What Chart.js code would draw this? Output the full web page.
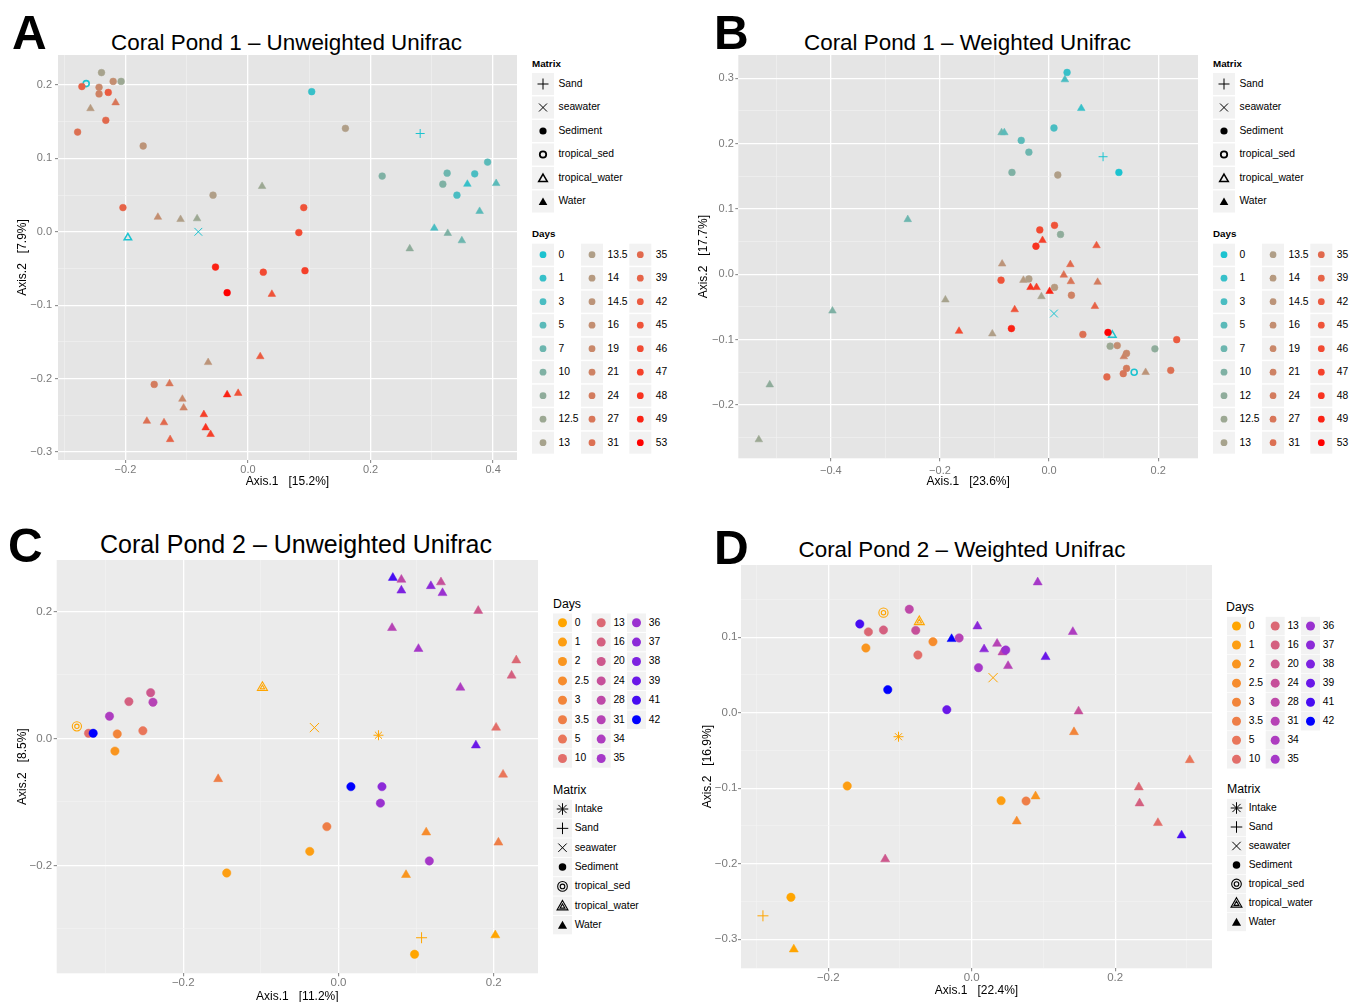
<!DOCTYPE html>
<html><head><meta charset="utf-8">
<script src="https://cdn.jsdelivr.net/npm/chart.js"></script>
<style>
html,body{margin:0;padding:0;overflow:hidden;background:#fff;width:1349px;height:1002px;}
body{position:relative;font-family:"Liberation Sans",Arial,Helvetica,sans-serif;color:#000;}
.t{position:absolute;white-space:pre;line-height:1;}
canvas{position:absolute;}
#ov{position:absolute;left:0;top:0;}
</style></head><body>
<svg id="ov" width="1349" height="1002"></svg>
<script>
// ---------------- DATA ----------------
const pond1Days = [0,1,3,5,7,10,12,12.5,13,13.5,14,14.5,16,19,21,24,27,31,35,39,42,45,46,47,48,49,53];
const pond1Colors = ['#1CC3D0','#37C0C9','#4ABDC2','#5BBAB9','#6DB6AF','#7FB1A4','#8FAC9B','#9CA893','#A7A38D','#B09F88','#B69A80','#BC9479','#C38E71','#C9886A','#CE8264','#D37C5E','#D87659','#DC7053','#E1694D','#E66347','#EB5B40','#EF5339','#F24A32','#F5402A','#F83320','#FB2214','#FF0000'];
const pond1Matrix = ['Sand','seawater','Sediment','tropical_sed','tropical_water','Water'];
const pond2Days = [0,1,2,2.5,3,3.5,5,10,13,16,20,24,28,31,34,35,36,37,38,39,41,42];
const pond2Colors = ['#FFA500','#FD9E12','#F9951F','#F68C2D','#F2853A','#EE7E47','#E9765A','#E26E6A','#DB6874','#D46080','#CD588D','#C6509A','#BE49A8','#B643B5','#AE3DC0','#A638C8','#9A31D0','#8C2AD8','#7D22E0','#6A18E8','#470CF2','#0000FF'];
const pond2Matrix = ['Intake','Sand','seawater','Sediment','tropical_sed','tropical_water','Water'];

// Panel A: Coral Pond 1 - Unweighted Unifrac
const aX = [-0.239,-0.264,-0.271,-0.220,-0.207,-0.243,-0.243,-0.228,-0.257,-0.216,-0.232,-0.278,-0.171,0.023,-0.057,-0.204,-0.147,-0.110,-0.083,-0.081,-0.196,-0.053,0.025,-0.034,0.039,0.020,-0.065,-0.153,-0.128,-0.034,-0.016,-0.107,-0.105,-0.072,-0.165,-0.137,-0.069,-0.061,-0.127,0.104,0.159,0.281,0.219,0.391,0.325,0.370,0.318,0.358,0.405,0.341,0.378,0.304,0.326,0.349,0.264,0.091,0.083,0.093];
const aY = [0.217,0.202,0.198,0.205,0.205,0.197,0.188,0.190,0.168,0.176,0.152,0.136,0.117,0.062,0.050,0.033,0.020,0.017,0.018,0.000,-0.008,-0.048,-0.055,-0.083,-0.085,-0.170,-0.178,-0.208,-0.207,-0.222,-0.220,-0.228,-0.240,-0.249,-0.258,-0.260,-0.267,-0.276,-0.283,0.191,0.141,0.134,0.076,0.095,0.080,0.079,0.065,0.065,0.066,0.050,0.028,0.005,-0.002,-0.012,-0.023,0.033,-0.001,-0.053];
const aDay = [13,0,39,16,12.5,19,21,42,14,27,35,31,14.5,12.5,13.5,39,16,13.5,12.5,0,0,49,46,53,45,42,14.5,24,27,49,45,19,21,47,31,35,48,47,39,1,13.5,0,10,5,7,3,10,1,5,3,5,3,10,7,12,45,46,47];
const aMat = ['Sediment','tropical_sed','Sediment','Sediment','Sediment','Sediment','Sediment','Sediment','Water','Water','Sediment','Sediment','Sediment','Water','Sediment','Sediment','Water','Water','Water','seawater','tropical_water','Sediment','Sediment','Sediment','Water','Water','Water','Sediment','Water','Water','Water','Water','Water','Water','Water','Water','Water','Water','Water','Sediment','Sediment','Sand','Sediment','Sediment','Sediment','Sediment','Sediment','Water','Water','Sediment','Water','Water','Water','Water','Water','Sediment','Sediment','Sediment'];

// Panel B: Coral Pond 1 - Weighted Unifrac
const bX = [-0.259,-0.190,-0.165,-0.397,-0.512,-0.532,0.033,0.029,0.059,-0.087,-0.082,0.009,-0.051,-0.037,0.099,0.128,-0.068,0.016,0.010,-0.017,0.021,-0.012,-0.024,0.087,-0.086,0.039,0.027,-0.088,-0.047,-0.037,0.040,0.089,-0.034,-0.023,0.001,0.010,-0.014,0.041,0.009,0.084,-0.063,-0.069,-0.104,0.062,0.108,0.116,0.112,0.125,0.137,0.142,0.234,0.194,0.142,0.136,0.156,0.177,0.223,0.106];
const bY = [0.084,-0.039,-0.087,-0.056,-0.169,-0.253,0.309,0.298,0.254,0.217,0.217,0.224,0.205,0.187,0.180,0.156,0.156,0.152,0.075,0.068,0.061,0.052,0.043,0.044,0.016,0.015,-0.001,-0.009,-0.009,-0.007,-0.011,-0.012,-0.020,-0.020,-0.026,-0.020,-0.034,-0.032,-0.060,-0.049,-0.054,-0.083,-0.091,-0.092,-0.089,-0.093,-0.110,-0.109,-0.126,-0.121,-0.100,-0.114,-0.144,-0.152,-0.150,-0.150,-0.147,-0.157];
const bDay = [7,13,46,10,12,12.5,1,3,1,7,5,3,5,7,0,0,10,13.5,45,46,12,47,48,42,14.5,35,31,45,14,13.5,27,24,48,47,49,14,13,21,0,39,45,49,13.5,31,53,0,12.5,16,21,19,42,12,24,27,0,14.5,31,35];
const bMat = ['Water','Water','Water','Water','Water','Water','Sediment','Water','Water','Water','Water','Sediment','Sediment','Sediment','Sand','Sediment','Sediment','Sediment','Sediment','Sediment','Sediment','Water','Sediment','Water','Water','Water','Water','Sediment','Water','Sediment','Water','Water','Water','Water','Water','Sediment','Water','Sediment','seawater','Water','Water','Sediment','Water','Sediment','Sediment','tropical_water','Sediment','Sediment','Water','Sediment','Sediment','Sediment','Sediment','Sediment','tropical_sed','Water','Sediment','Sediment'];

// Panel C: Coral Pond 2 - Unweighted Unifrac
const cX = [-0.098,-0.242,-0.270,-0.239,-0.295,-0.337,-0.322,-0.316,-0.285,-0.252,-0.288,-0.155,-0.144,0.070,0.081,0.081,0.119,0.132,0.134,0.180,0.069,0.103,0.229,0.223,0.157,-0.031,0.0515,0.203,0.177,0.212,0.016,0.056,0.054,-0.015,0.113,0.206,-0.037,0.117,0.087,0.107,0.202,0.098];
const cY = [0.080,0.072,0.058,0.057,0.035,0.019,0.008,0.008,0.007,0.012,-0.020,-0.064,-0.212,0.253,0.250,0.233,0.240,0.246,0.229,0.201,0.174,0.141,0.123,0.099,0.080,0.017,0.005,0.017,-0.011,-0.057,-0.076,-0.076,-0.102,-0.139,-0.148,-0.164,-0.178,-0.193,-0.215,-0.314,-0.310,-0.340];
const cDay = [0,20,16,31,34,0,10,42,3,5,2,3.5,1,41,28,38,37,24,36,20,31,35,13,16,34,0,0,10,39,5,42,37,36,3.5,2.5,3.5,1,35,2,0,0,0];
const cMat = ['tropical_water','Sediment','Sediment','Sediment','Sediment','tropical_sed','Sediment','Sediment','Sediment','Sediment','Sediment','Water','Sediment','Water','Water','Water','Water','Water','Water','Water','Water','Water','Water','Water','Water','seawater','Intake','Water','Water','Water','Sediment','Sediment','Sediment','Sediment','Water','Water','Sediment','Sediment','Water','Sand','Water','Sediment'];

// Panel D: Coral Pond 2 - Weighted Unifrac
const dX = [-0.123,-0.087,-0.073,-0.156,-0.144,-0.123,-0.078,-0.054,-0.028,-0.0175,-0.1475,-0.075,-0.117,-0.0347,-0.102,-0.1735,-0.1206,-0.252,-0.291,-0.248,0.092,0.008,0.141,0.0354,0.0173,0.0429,0.0475,0.103,0.0095,0.0507,0.0298,0.149,0.1426,0.304,0.233,0.234,0.2596,0.2926,0.041,0.0758,0.089,0.0628];
const dY = [0.1325,0.137,0.1205,0.1175,0.107,0.1095,0.109,0.094,0.0976,0.099,0.0857,0.0764,0.0305,0.004,-0.0318,-0.097,-0.194,-0.2445,-0.269,-0.3134,0.1727,0.1144,0.107,0.0914,0.084,0.080,0.083,0.0738,0.0596,0.0619,0.0464,0.0018,-0.0256,-0.0627,-0.0988,-0.120,-0.146,-0.1624,-0.1165,-0.117,-0.1107,-0.1438];
const dDay = [0,28,0,41,13,16,24,2.5,42,31,2,10,42,39,0,1,20,0,0,0,35,37,34,31,37,28,36,39,35,31,0,24,3,5,13,16,10,41,1,3.5,2,2.5];
const dMat = ['tropical_sed','Sediment','tropical_water','Sediment','Sediment','Sediment','Sediment','Sediment','Water','Sediment','Sediment','Sediment','Sediment','Sediment','Intake','Sediment','Water','Sediment','Sand','Water','Water','Water','Water','Water','Water','Water','Sediment','Water','Sediment','Water','seawater','Water','Water','Water','Water','Water','Water','Water','Sediment','Sediment','Water','Water'];

// tick values
const aXMajor = [-0.2,0,0.2,0.4], aXMinor = [-0.3,-0.1,0.1,0.3];
const aYMajor = [-0.3,-0.2,-0.1,0,0.1,0.2], aYMinor = [-0.25,-0.15,-0.05,0.05,0.15];
const bXMajor = [-0.4,-0.2,0,0.2], bXMinor = [-0.5,-0.3,-0.1,0.1];
const bYMajor = [-0.2,-0.1,0,0.1,0.2,0.3], bYMinor = [-0.25,-0.15,-0.05,0.05,0.15,0.25];
const cXMajor = [-0.2,0,0.2], cXMinor = [-0.3,-0.1,0.1];
const cYMajor = [-0.2,0,0.2], cYMinor = [-0.3,-0.1,0.1];
const dXMajor = [-0.2,0,0.2], dXMinor = [-0.3,-0.1,0.1,0.3];
const dYMajor = [-0.3,-0.2,-0.1,0,0.1], dYMinor = [-0.25,-0.15,-0.05,0.05,0.15];

// ---------------- RENDERING ----------------
Chart.defaults.font.family = "'Liberation Sans', Arial, Helvetica, sans-serif";
Chart.defaults.animation = false;
const MINUS = '\u2212';
function fmt(v){ return (v < -1e-9 ? MINUS : '') + Math.abs(v).toFixed(1); }
function near(list, v){ return list.some(m => Math.abs(m - v) < 1e-9); }

const panelBg = { id:'panelBg', beforeDraw(chart, args, opts){ const a = chart.chartArea, ctx = chart.ctx; ctx.save(); ctx.fillStyle = opts.color; ctx.fillRect(a.left, a.top, a.right-a.left, a.bottom-a.top); ctx.restore(); } };

const SHAPES1 = {
  Sand:[{style:'cross',r:4.5,fill:false,bw:1}],
  seawater:[{style:'crossRot',r:5.5,fill:false,bw:1}],
  Sediment:[{style:'circle',r:3.4,fill:true,bw:0.5}],
  tropical_sed:[{style:'circle',r:3,fill:false,bw:1.6}],
  tropical_water:[{style:'triangle',r:4.3,fill:false,bw:1.5}],
  Water:[{style:'triangle',r:4.4,fill:true,bw:0.5}]
};
const SHAPES2 = {
  Intake:[{style:'star',r:5,fill:false,bw:1}],
  Sand:[{style:'cross',r:5.5,fill:false,bw:1}],
  seawater:[{style:'crossRot',r:6.5,fill:false,bw:1}],
  Sediment:[{style:'circle',r:4.2,fill:true,bw:0.5}],
  tropical_sed:[{style:'circle',r:4.6,fill:false,bw:1.1},{style:'circle',r:2.2,fill:false,bw:1.1}],
  tropical_water:[{style:'triangle',r:5.8,fill:false,bw:1.1},{style:'triangle',r:2.6,fill:false,bw:1.1}],
  Water:[{style:'triangle',r:5.2,fill:true,bw:0.5}]
};

function makePanel(p){
  const lh = p.atSize*1.2;
  const cLeft = Math.round(p.yTitleX - lh/2);
  const cTop = p.plot[1];
  const cBottom = Math.round(p.xTitleY + lh/2);
  const W = Math.round(p.plot[2] - cLeft);
  const H = cBottom - cTop;
  const yW = p.plot[0] - cLeft;
  const xH = H - (p.plot[3] - p.plot[1]);
  const cv = document.createElement('canvas');
  cv.width = W; cv.height = H;
  cv.style.left = cLeft+'px'; cv.style.top = cTop+'px'; cv.style.width = W+'px'; cv.style.height = H+'px';
  document.body.appendChild(cv);
  const datasets = [];
  p.levels.forEach(m => {
    const idx = []; p.mat.forEach((v,i)=>{ if (v===m) idx.push(i); });
    if (!idx.length) return;
    const cols = idx.map(i => p.colors[p.days.indexOf(p.day[i])] || '#000');
    p.shapes[m].forEach(s => {
      datasets.push({ data: idx.map(i=>({x:p.x[i], y:p.y[i]})), pointStyle:s.style, pointRadius:s.r, pointHoverRadius:s.r,
        pointBackgroundColor: s.fill ? cols : 'rgba(0,0,0,0)', pointBorderColor: cols, pointBorderWidth: s.bw, showLine:false });
    });
  });
  const axis = (isX) => {
    const majors = isX ? p.xMajor : p.yMajor, minors = isX ? p.xMinor : p.yMinor;
    const isMaj = c => c && c.tick && near(majors, c.tick.value);
    return {
      type:'linear', min: isX ? p.xr[0] : p.yr[0], max: isX ? p.xr[1] : p.yr[1], bounds:'data',
      position: isX ? 'bottom' : 'left',
      afterBuildTicks: s => { s.ticks = majors.concat(minors).sort((a,b)=>a-b).map(v=>({value:v})); },
      afterFit: s => { if (isX){ s.height = xH; s.paddingLeft = 0; s.paddingRight = 0; } else { s.width = yW; s.paddingTop = 0; s.paddingBottom = 0; } },
      ticks:{ autoSkip:false, maxRotation:0, minRotation:0, padding: isX ? p.xPad : p.yPad, color:'#7A7A7A', font:{size:p.tickSize},
        callback: v => near(majors, v) ? fmt(v) : '' },
      grid:{ drawTicks:true, tickLength:3, tickWidth:1,
        color: c => isMaj(c) ? '#FFFFFF' : p.minorColor,
        lineWidth: c => isMaj(c) ? 1.3 : 0.6,
        tickColor: c => isMaj(c) ? '#7F7F7F' : 'rgba(0,0,0,0)' },
      border:{display:false},
      title:{ display:true, text: isX ? p.xTitle : p.yTitle, color:'#000', font:{size:p.atSize}, padding:0 }
    };
  };
  new Chart(cv, {
    type:'scatter', data:{datasets},
    options:{ responsive:false, animation:false, devicePixelRatio:1, layout:{padding:0, autoPadding:false},
      plugins:{ legend:{display:false}, tooltip:{enabled:false}, title:{display:false}, panelBg:{color:p.bg} },
      scales:{ x: axis(true), y: axis(false) } },
    plugins:[panelBg]
  });
}

makePanel({plot:[58,55,517,460], xr:[-0.31,0.439], yr:[-0.311,0.241], x:aX, y:aY, day:aDay, mat:aMat,
  days:pond1Days, colors:pond1Colors, levels:pond1Matrix, shapes:SHAPES1, xMajor:aXMajor, xMinor:aXMinor, yMajor:aYMajor, yMinor:aYMinor,
  yTitleX:22, xTitleY:482, atSize:12, tickSize:11, xPad:0.5, yPad:3, bg:'#E5E5E5', minorColor:'#F2F2F2',
  xTitle:'Axis.1   [15.2%]', yTitle:'Axis.2   [7.9%]'});
makePanel({plot:[738.3,55,1198.3,458.3], xr:[-0.5696,0.273], yr:[-0.2816,0.3357], x:bX, y:bY, day:bDay, mat:bMat,
  days:pond1Days, colors:pond1Colors, levels:pond1Matrix, shapes:SHAPES1, xMajor:bXMajor, xMinor:bXMinor, yMajor:bYMajor, yMinor:bYMinor,
  yTitleX:703, xTitleY:481.7, atSize:12, tickSize:11, xPad:3, yPad:1.5, bg:'#E5E5E5', minorColor:'#F2F2F2',
  xTitle:'Axis.1   [23.6%]', yTitle:'Axis.2   [17.7%]'});
makePanel({plot:[56.7,560,538.3,973.3], xr:[-0.363,0.257], yr:[-0.370,0.281], x:cX, y:cY, day:cDay, mat:cMat,
  days:pond2Days, colors:pond2Colors, levels:pond2Matrix, shapes:SHAPES2, xMajor:cXMajor, xMinor:cXMinor, yMajor:cYMajor, yMinor:cYMinor,
  yTitleX:22, xTitleY:996.7, atSize:12, tickSize:11.5, xPad:0, yPad:1.5, bg:'#EBEBEB', minorColor:'#F4F4F4',
  xTitle:'Axis.1   [11.2%]', yTitle:'Axis.2   [8.5%]'});
makePanel({plot:[741,565,1212.3,968.3], xr:[-0.3216,0.335], yr:[-0.3385,0.1956], x:dX, y:dY, day:dDay, mat:dMat,
  days:pond2Days, colors:pond2Colors, levels:pond2Matrix, shapes:SHAPES2, xMajor:dXMajor, xMinor:dXMinor, yMajor:dYMajor, yMinor:dYMinor,
  yTitleX:707, xTitleY:991, atSize:12, tickSize:11.5, xPad:0, yPad:0.5, bg:'#EBEBEB', minorColor:'#F4F4F4',
  xTitle:'Axis.1   [22.4%]', yTitle:'Axis.2   [16.9%]'});

// ---------- text helpers ----------
function txtBase(str, x, base, size, opts={}){
  const d = document.createElement('div'); d.className='t'; d.textContent = str;
  d.style.fontSize = size+'px'; d.style.top = (base - 0.8465*size)+'px'; d.style.left = x+'px';
  if (opts.bold) d.style.fontWeight = 'bold';
  if (opts.center) d.style.transform = 'translateX(-50%)';
  document.body.appendChild(d); return d;
}
function txtMid(str, x, cy, size, opts={}){ return txtBase(str, x, cy + (0.8465-0.4885)*size, size, opts); }

txtBase('A', 12, 49.5, 48, {bold:true});
txtBase('B', 714, 49.5, 48, {bold:true});
txtBase('C', 8, 563, 48, {bold:true});
txtBase('D', 714, 565, 48, {bold:true});
txtBase('Coral Pond 1 \u2013 Unweighted Unifrac', 286.5, 51, 22.4, {center:true});
txtBase('Coral Pond 1 \u2013 Weighted Unifrac', 967.5, 51, 22.4, {center:true});
txtBase('Coral Pond 2 \u2013 Unweighted Unifrac', 296, 553.5, 25, {center:true});
txtBase('Coral Pond 2 \u2013 Weighted Unifrac', 962, 558, 22.4, {center:true});

// ---------- legends ----------
const ov = document.getElementById('ov');
let svgStr = '';
function tri(cx, cy, r){ const s = Math.sin(Math.PI*2/3)*r; return `${cx},${cy-r} ${cx+s},${cy+r/2} ${cx-s},${cy+r/2}`; }
function sym(kind, cx, cy, col, k, pond2){
  const st = `stroke="${col}" fill="none"`;
  if (kind==='Sand') return `<path d="M${cx-5.5*k} ${cy}H${cx+5.5*k}M${cx} ${cy-5.5*k}V${cy+5.5*k}" ${st} stroke-width="1"/>`;
  if (kind==='seawater') { const r=4*k; return `<path d="M${cx-r} ${cy-r}L${cx+r} ${cy+r}M${cx-r} ${cy+r}L${cx+r} ${cy-r}" ${st} stroke-width="1"/>`; }
  if (kind==='Intake') { const r=5.5*k, q=r*0.707; return `<path d="M${cx-r} ${cy}H${cx+r}M${cx} ${cy-r}V${cy+r}M${cx-q} ${cy-q}L${cx+q} ${cy+q}M${cx-q} ${cy+q}L${cx+q} ${cy-q}" ${st} stroke-width="1"/>`; }
  if (kind==='Sediment') return `<circle cx="${cx}" cy="${cy}" r="${3.6*k}" fill="${col}"/>`;
  if (kind==='tropical_sed') return pond2 ? `<circle cx="${cx}" cy="${cy}" r="${4.6*k}" ${st} stroke-width="1.1"/><circle cx="${cx}" cy="${cy}" r="${2.2*k}" ${st} stroke-width="1.1"/>`
                                         : `<circle cx="${cx}" cy="${cy}" r="${3.2*k}" ${st} stroke-width="1.8"/>`;
  if (kind==='tropical_water') return pond2 ? `<polygon points="${tri(cx,cy+1,6*k)}" ${st} stroke-width="1.1"/><polygon points="${tri(cx,cy+1,2.7*k)}" ${st} stroke-width="1.1"/>`
                                           : `<polygon points="${tri(cx,cy+1,5*k)}" ${st} stroke-width="1.5"/>`;
  if (kind==='Water') return `<polygon points="${tri(cx,cy+1,5*k)}" fill="${col}"/>`;
  return '';
}
function legend(L){
  txtMid('Matrix', L.mx, L.mTitleY, L.titleSize, {bold:L.bold});
  L.levels.forEach((m,i)=>{
    const cy = L.mRow0 + i*L.mDy;
    svgStr += `<rect x="${L.mx}" y="${cy-L.boxH/2}" width="${L.boxW}" height="${L.boxH}" fill="#F2F2F2"/>`;
    svgStr += sym(m, L.mx+L.boxW/2, cy, '#000', L.k, L.pond2);
    txtMid(m, L.mx+L.labelOff, cy, L.labelSize);
  });
  txtMid('Days', L.dx, L.dTitleY, L.titleSize, {bold:L.bold});
  L.days.forEach((d,i)=>{
    const col = Math.floor(i/L.nrow), row = i % L.nrow;
    const bx = L.cols[col], cy = L.dRow0 + row*L.dDy;
    svgStr += `<rect x="${bx}" y="${cy-L.boxH/2}" width="${L.boxW}" height="${L.boxH}" fill="#F2F2F2"/>`;
    svgStr += `<circle cx="${bx+L.boxW/2}" cy="${cy}" r="${L.dotR}" fill="${L.colors[i]}"/>`;
    txtMid(String(d), bx+L.labelOff, cy, L.labelSize);
  });
}
const legA = {mx:532, mTitleY:63.3, mRow0:84, mDy:23.5, dx:532, dTitleY:233.3, dRow0:254.7, dDy:23.5, cols:[532,581,629.3], nrow:9,
  boxW:22, boxH:22, labelOff:26.5, titleSize:9.8, labelSize:10.3, bold:true, k:1, pond2:false, dotR:3.4, levels:pond1Matrix, days:pond1Days, colors:pond1Colors};
legend(legA);
legend(Object.assign({}, legA, {mx:532+681, dx:532+681, cols:legA.cols.map(c=>c+681)}));
const legC = {mx:553, mTitleY:790, mRow0:809, mDy:19.35, dx:553, dTitleY:604, dRow0:622.7, dDy:19.4, cols:[553,591.7,627], nrow:8,
  boxW:19, boxH:18.4, labelOff:21.7, titleSize:12.3, labelSize:10.3, bold:false, k:1.05, pond2:true, dotR:4.5, levels:pond2Matrix, days:pond2Days, colors:pond2Colors};
legend(legC);
legend(Object.assign({}, legC, {mx:1227, mTitleY:789, mRow0:808, mDy:19, dx:1226, dTitleY:607, dRow0:626, dDy:19.05, cols:legC.cols.map(c=>c+674)}));
ov.innerHTML = svgStr;
</script>
</body></html>
